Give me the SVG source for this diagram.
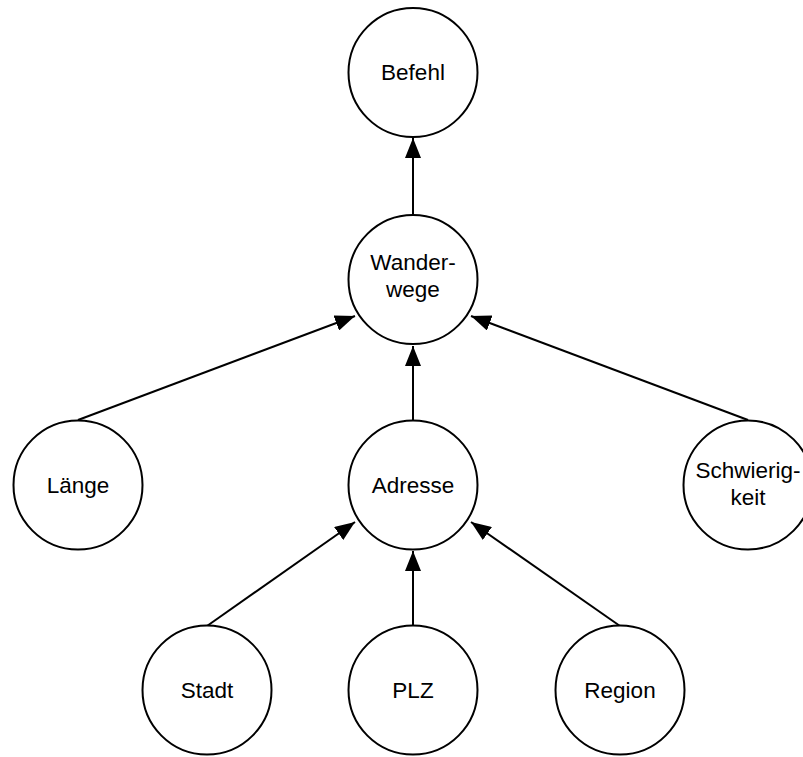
<svg xmlns="http://www.w3.org/2000/svg" width="803" height="757" viewBox="0 0 803 757">
<style>
.n{fill:#fff;stroke:#000;stroke-width:2}
.t{font-family:"Liberation Sans",Arial,sans-serif;font-size:22.5px;fill:#000;text-anchor:middle}
.e{stroke:#000;stroke-width:2;fill:none;marker-end:url(#a)}
</style>
<defs>
<marker id="a" viewBox="0 0 20 16" refX="20" refY="8" markerWidth="20" markerHeight="16" markerUnits="userSpaceOnUse" orient="auto">
<path d="M0,0 L20,8 L0,16 Z" fill="#000"/>
</marker>
</defs>
<rect width="803" height="757" fill="#fff"/>
<g id="connectors">
<line class="e" x1="413" y1="214" x2="413" y2="138"/>
<line class="e" x1="78" y1="420" x2="355" y2="316"/>
<line class="e" x1="413" y1="420" x2="413" y2="346"/>
<line class="e" x1="748" y1="420" x2="471" y2="316"/>
<line class="e" x1="207" y1="626" x2="355" y2="522"/>
<line class="e" x1="413" y1="626" x2="413" y2="551"/>
<line class="e" x1="620" y1="626" x2="471" y2="522"/>
</g>
<g id="befehl"><circle class="n" cx="413" cy="72.5" r="64.5"/><text class="t" x="413" y="80">Befehl</text></g>
<g id="wanderwege"><circle class="n" cx="413" cy="279.5" r="64.5"/><text class="t" x="413" y="270">Wander-</text><text class="t" x="413" y="297">wege</text></g>
<g id="laenge"><circle class="n" cx="78" cy="485" r="64.5"/><text class="t" x="78" y="492.5">Länge</text></g>
<g id="adresse"><circle class="n" cx="413" cy="485" r="64.5"/><text class="t" x="413" y="492.5">Adresse</text></g>
<g id="schwierigkeit"><circle class="n" cx="748" cy="485" r="64.5"/><text class="t" x="748" y="477.5">Schwierig-</text><text class="t" x="748" y="504.5">keit</text></g>
<g id="stadt"><circle class="n" cx="207" cy="690" r="64.5"/><text class="t" x="207" y="697.5">Stadt</text></g>
<g id="plz"><circle class="n" cx="413" cy="690" r="64.5"/><text class="t" x="413" y="697.5">PLZ</text></g>
<g id="region"><circle class="n" cx="620" cy="690" r="64.5"/><text class="t" x="620" y="697.5">Region</text></g>
</svg>
